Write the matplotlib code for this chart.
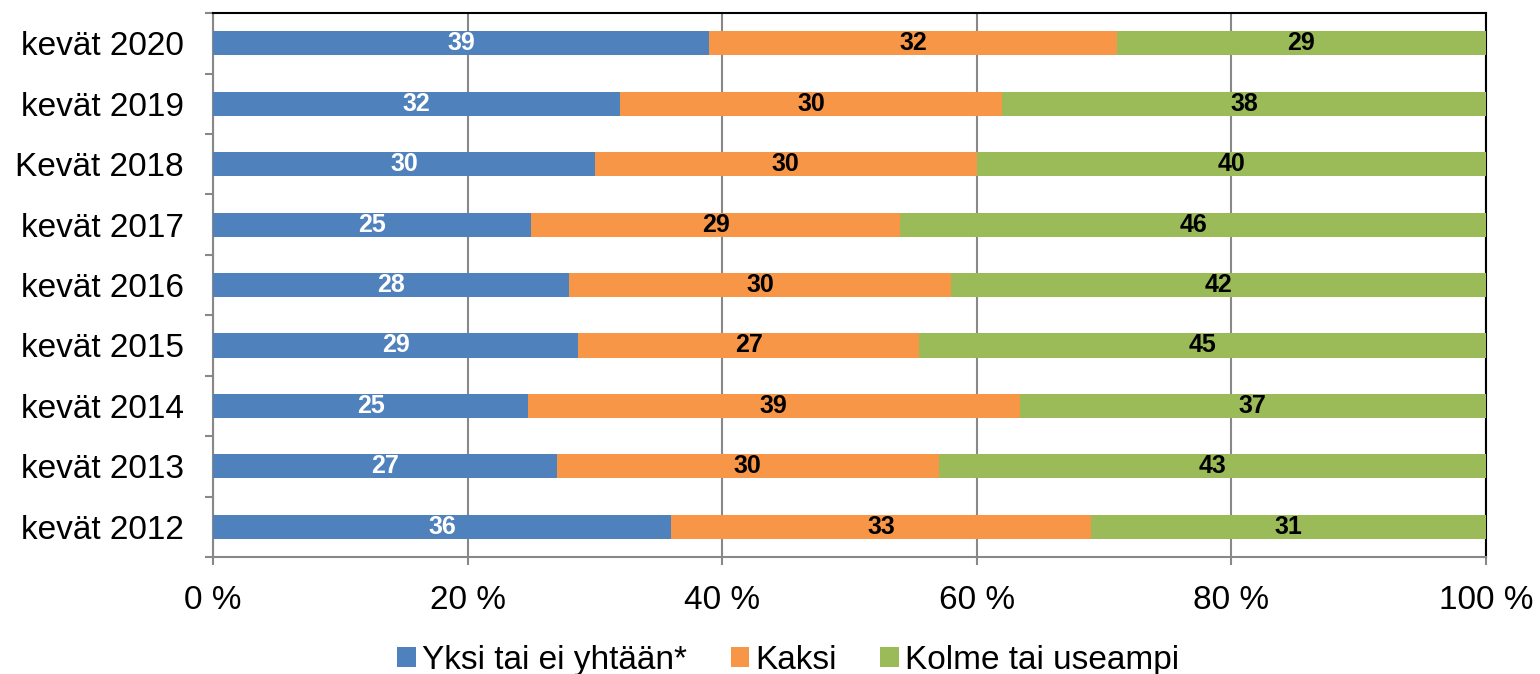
import numpy as np
import matplotlib
matplotlib.use("Agg")
import matplotlib.pyplot as plt
from matplotlib.ticker import FixedLocator

plt.rcParams['font.family'] = ['Liberation Sans', 'DejaVu Sans']

years = ["kevät 2020", "kevät 2019", "Kevät 2018", "kevät 2017", "kevät 2016",
         "kevät 2015", "kevät 2014", "kevät 2013", "kevät 2012"]
yksi = [39, 32, 30, 25, 28, 29, 25, 27, 36]
kaksi = [32, 30, 30, 29, 30, 27, 39, 30, 33]
kolme = [29, 38, 40, 46, 42, 45, 37, 43, 31]
series_names = ["Yksi tai ei yhtään*", "Kaksi", "Kolme tai useampi"]
colors = ["#4F81BD", "#F79646", "#9BBB59"]
label_colors = ["white", "black", "black"]

data = np.array([yksi, kaksi, kolme], dtype=float)
share = data / data.sum(axis=0) * 100

fig = plt.figure(figsize=(15.4, 6.74), dpi=100)
ax = fig.add_axes([0.1383, 0.1736, 0.8266, 0.807])

y = np.arange(len(years))
left = np.zeros(len(years))
for i in range(3):
    bars = ax.barh(y, share[i], left=left, height=0.4, color=colors[i],
                   label=series_names[i], zorder=3)
    for j, b in enumerate(bars):
        ax.text(left[j] + share[i][j] / 2, y[j], f"{int(data[i][j])}",
                ha="center", va="center", color=label_colors[i],
                fontsize=18, fontweight="bold", zorder=4)
    left += share[i]

ax.set_xlim(0, 100)
ax.set_ylim(len(years) - 0.5, -0.5)
ax.set_xticks(np.arange(0, 101, 20))
ax.set_xticklabels([f"{v} %" for v in range(0, 101, 20)], fontsize=24)
ax.set_yticks(y)
ax.set_yticklabels(years, fontsize=24)
ax.yaxis.set_minor_locator(FixedLocator(np.arange(-0.5, len(years), 1)))
ax.tick_params(axis="y", which="major", length=0, pad=21)
ax.tick_params(axis="y", which="minor", length=6, color="#888888", width=1.5)
ax.tick_params(axis="x", length=6, color="#888888", width=1.5, pad=14)

ax.grid(axis="x", color="#888888", linewidth=1.5, zorder=0)
for s in ["left", "bottom"]:
    ax.spines[s].set_color("#888888")
    ax.spines[s].set_linewidth(1.5)
for s in ["top", "right"]:
    ax.spines[s].set_color("black")
    ax.spines[s].set_linewidth(1.5)

ax.legend(loc="center", bbox_to_anchor=(0.452, -0.19), ncol=3,
          frameon=False, fontsize=24, handlelength=0.55, handleheight=0.55,
          handletextpad=0.2, columnspacing=1.3, borderpad=0)

fig.savefig("out.png", dpi=100)
